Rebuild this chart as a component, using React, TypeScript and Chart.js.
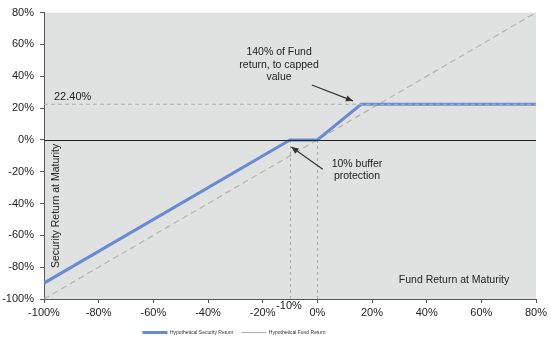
import React, { useEffect, useRef } from "react";
import { Chart, registerables } from "chart.js";
Chart.register(...registerables);

// Data
const securityX = [-100, -10, 0, 16, 80];
const securityY = [-90, 0, 0, 22.4, 22.4];
const fundX = [-100, 80];
const fundY = [-100, 80];
const capValue = 22.4;
const bufferLevel = -10;
const axisMin = -100;
const axisMax = 80;
const tickStep = 20;
const seriesNames = ["Hypothetical Security Return", "Hypothetical Fund Return"];
const capLabel = "22.40%";
const bufferLabel = "-10%";
const capNote = ["140% of Fund", "return, to capped", "value"];
const bufferNote = ["10% buffer", "protection"];
const xTitle = "Fund Return at Maturity";
const yTitle = "Security Return at Maturity";

const FONT = "'Liberation Sans', Arial, sans-serif";

function arrow(ctx: CanvasRenderingContext2D, x1: number, y1: number, x2: number, y2: number) {
  ctx.save();
  ctx.strokeStyle = "#333";
  ctx.fillStyle = "#333";
  ctx.lineWidth = 1.2;
  ctx.beginPath();
  ctx.moveTo(x1, y1);
  ctx.lineTo(x2, y2);
  ctx.stroke();
  const a = Math.atan2(y2 - y1, x2 - x1);
  const L = 7, W = 3.2;
  ctx.beginPath();
  ctx.moveTo(x2, y2);
  ctx.lineTo(x2 - L * Math.cos(a) + W * Math.sin(a), y2 - L * Math.sin(a) - W * Math.cos(a));
  ctx.lineTo(x2 - L * Math.cos(a) - W * Math.sin(a), y2 - L * Math.sin(a) + W * Math.cos(a));
  ctx.closePath();
  ctx.fill();
  ctx.restore();
}

const decorPlugin = {
  id: "decor",
  afterLayout(chart: any) {
    const lg = chart.legend;
    if (lg) {
      lg.left -= 34;
      lg.right -= 34;
    }
  },
  beforeDraw(chart: any) {
    const { ctx, chartArea: a } = chart;
    ctx.save();
    ctx.fillStyle = "#ffffff";
    ctx.fillRect(0, 0, chart.width, chart.height);
    ctx.fillStyle = "#e0e1e1";
    ctx.fillRect(a.left, a.top, a.right - a.left, a.bottom - a.top);
    ctx.restore();
  },
  beforeDatasetsDraw(chart: any) {
    const { ctx, chartArea: a, scales } = chart;
    const xs = scales.x, ys = scales.y;
    ctx.save();
    ctx.strokeStyle = "#a8a8a8";
    ctx.lineWidth = 1;
    ctx.setLineDash([3, 3]);
    [bufferLevel, 0].forEach((v) => {
      const px = Math.round(xs.getPixelForValue(v)) + 0.5;
      ctx.beginPath();
      ctx.moveTo(px, ys.getPixelForValue(0));
      ctx.lineTo(px, a.bottom);
      ctx.stroke();
    });
    ctx.restore();
  },
  afterDatasetsDraw(chart: any) {
    const { ctx, chartArea: a, scales } = chart;
    const ys = scales.y;
    ctx.save();
    const cy = ys.getPixelForValue(capValue);
    ctx.strokeStyle = "#b0b0b0";
    ctx.lineWidth = 1.2;
    ctx.setLineDash([4, 3]);
    ctx.beginPath();
    ctx.moveTo(a.left, cy);
    ctx.lineTo(a.right, cy);
    ctx.stroke();
    ctx.setLineDash([]);
    const zy = Math.round(ys.getPixelForValue(0)) + 0.5;
    ctx.strokeStyle = "#222";
    ctx.lineWidth = 1;
    ctx.beginPath();
    ctx.moveTo(a.left, zy);
    ctx.lineTo(a.right, zy);
    ctx.stroke();
    ctx.restore();
  },
  afterDraw(chart: any) {
    const { ctx, chartArea: a, scales } = chart;
    const xs = scales.x, ys = scales.y;
    ctx.save();
    ctx.fillStyle = "#222";
    ctx.font = `11px ${FONT}`;
    ctx.textBaseline = "middle";
    ctx.textAlign = "left";
    ctx.fillText(capLabel, a.left + 10, ys.getPixelForValue(capValue) - 7);
    ctx.textAlign = "center";
    ctx.fillText(bufferLabel, xs.getPixelForValue(bufferLevel) - 1, a.bottom + 7);
    ctx.font = `10.5px ${FONT}`;
    ctx.fillText(xTitle, xs.getPixelForValue(50), ys.getPixelForValue(-88));
    ctx.save();
    ctx.translate(a.left + 12.5, ys.getPixelForValue(-41.5));
    ctx.rotate(-Math.PI / 2);
    ctx.fillText(yTitle, 0, 0);
    ctx.restore();
    const nx = xs.getPixelForValue(-14);
    capNote.forEach((t, i) => ctx.fillText(t, nx, ys.getPixelForValue(55) + i * 12.5));
    arrow(ctx, xs.getPixelForValue(-2), ys.getPixelForValue(34.5), xs.getPixelForValue(13), ys.getPixelForValue(24.5));
    const bx = xs.getPixelForValue(14.5);
    bufferNote.forEach((t, i) => ctx.fillText(t, bx, ys.getPixelForValue(-15) + i * 12.5));
    arrow(ctx, xs.getPixelForValue(2), ys.getPixelForValue(-18.5), xs.getPixelForValue(-9.5), ys.getPixelForValue(-4.5));
    ctx.restore();
  },
};

export default function App() {
  const ref = useRef<HTMLCanvasElement>(null);
  useEffect(() => {
    document.body.style.margin = "0";
    const tickFont = { family: FONT, size: 11 };
    const chart = new Chart(ref.current!, {
      type: "line",
      data: {
        datasets: [
          {
            label: seriesNames[0],
            data: securityX.map((x, i) => ({ x, y: securityY[i] })),
            borderColor: "#678cd3",
            backgroundColor: "#678cd3",
            borderWidth: 3,
            pointRadius: 0,
            tension: 0,
          },
          {
            label: seriesNames[1],
            data: fundX.map((x, i) => ({ x, y: fundY[i] })),
            borderColor: "#b3b3b3",
            backgroundColor: "#b3b3b3",
            borderWidth: 1.2,
            borderDash: [6, 4],
            pointRadius: 0,
          },
        ],
      },
      options: {
        animation: false,
        responsive: false,
        layout: { padding: { left: 0, right: 15, top: 8, bottom: 0 } },
        plugins: {
          tooltip: { enabled: false },
          legend: {
            position: "bottom",
            labels: {
              usePointStyle: true,
              pointStyle: "line",
              pointStyleWidth: 25,
              font: { family: FONT, size: 5 },
              color: "#333",
              padding: 8,
            },
          },
        },
        scales: {
          x: {
            type: "linear",
            min: axisMin,
            max: axisMax,
            ticks: { stepSize: tickStep, font: tickFont, color: "#222", padding: 3, callback: (v: any) => v + "%" },
            grid: { drawOnChartArea: false, tickLength: 4, color: "#555" },
            border: { color: "#555" },
            afterFit: (s: any) => { s.height = 23; },
          },
          y: {
            type: "linear",
            min: axisMin,
            max: axisMax,
            ticks: { stepSize: tickStep, font: tickFont, color: "#222", padding: 6, callback: (v: any) => v + "%" },
            grid: { drawOnChartArea: false, tickLength: 4, color: "#555" },
            border: { color: "#555" },
            afterFit: (s: any) => { s.width = 44; },
          },
        },
      },
      plugins: [decorPlugin],
    });
    return () => chart.destroy();
  }, []);
  return <canvas ref={ref} width={551} height={345} style={{ display: "block" }} />;
}
